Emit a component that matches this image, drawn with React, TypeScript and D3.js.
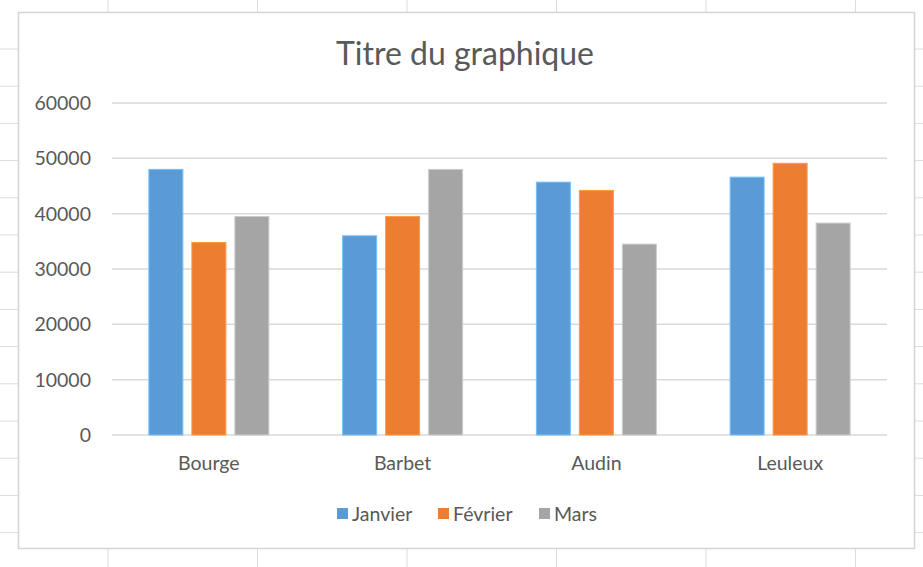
import React, { useMemo } from 'react';
import * as d3 from 'd3';

const WIDTH = 923;
const HEIGHT = 567;
const FRAME = { left: 18, top: 12, right: 914, bottom: 548 };
const PLOT = { left: 112, right: 887, top: 103, bottom: 435 };
const FONT = 'Lato, "Open Sans", sans-serif';
const TEXT_COLOR = '#595959';

const categories = ['Bourge', 'Barbet', 'Audin', 'Leuleux'];
const seriesNames = ['Janvier', 'Février', 'Mars'];
const janvier = [48000, 36000, 45700, 46600];
const fevrier = [34800, 39500, 44200, 49100];
const mars = [39500, 48000, 34500, 38300];
const yTicks = [0, 10000, 20000, 30000, 40000, 50000, 60000];
const colors = ['#5B9BD5', '#ED7D31', '#A5A5A5'];

// spreadsheet cell grid peeking out round the chart
const sheetCols = [108, 257.5, 407, 556.5, 706, 855.5];
const sheetRows = d3.range(14).map((k) => 49 + k * 37.2);

const App = () => {
  const values = [janvier, fevrier, mars];

  const xScale = useMemo(
    () => d3.scaleBand<string>().domain(categories).range([PLOT.left, PLOT.right]).padding(0),
    []
  );
  const groupWidth = 120;
  const xInner = useMemo(
    () =>
      d3
        .scaleBand<string>()
        .domain(seriesNames)
        .range([0, groupWidth])
        .paddingInner(9 / 43)
        .paddingOuter(0),
    []
  );
  const yScale = useMemo(
    () => d3.scaleLinear().domain([0, 60000]).range([PLOT.bottom, PLOT.top]),
    []
  );
  const legendX = d3.scalePoint<string>().domain(seriesNames).range([337, 539]);

  const groupOffset = (xScale.bandwidth() - groupWidth) / 2;

  return (
    <svg
      width={WIDTH}
      height={HEIGHT}
      style={{ position: 'absolute', left: 0, top: 0, background: '#fff' }}
    >
      {/* sheet grid */}
      <g stroke="#DCDCDC" strokeWidth={1}>
        {sheetCols.map((x, i) => (
          <g key={'c' + i}>
            <line x1={x} x2={x} y1={0} y2={FRAME.top} />
            <line x1={x} x2={x} y1={FRAME.bottom} y2={HEIGHT} />
          </g>
        ))}
        {sheetRows.map((y, i) => (
          <g key={'r' + i}>
            <line x1={0} x2={FRAME.left} y1={y} y2={y} />
            <line x1={FRAME.right} x2={WIDTH} y1={y} y2={y} />
          </g>
        ))}
      </g>

      {/* chart frame */}
      <rect
        x={FRAME.left + 0.5}
        y={FRAME.top + 0.5}
        width={FRAME.right - FRAME.left}
        height={FRAME.bottom - FRAME.top}
        fill="#fff"
        stroke="#D4D4D4"
        strokeWidth={1.5}
      />

      <text
        x={465}
        y={65}
        textAnchor="middle"
        fontFamily={FONT}
        fontSize={32}
        fill={TEXT_COLOR}
      >
        Titre du graphique
      </text>

      {/* gridlines and y labels */}
      {yTicks.map((t) => (
        <g key={t}>
          <line
            x1={PLOT.left}
            x2={PLOT.right}
            y1={yScale(t)}
            y2={yScale(t)}
            stroke="#D9D9D9"
            strokeWidth={1.5}
          />
          <text
            x={91}
            y={yScale(t)}
            dy="0.36em"
            textAnchor="end"
            fontFamily={FONT}
            fontSize={19.5}
            fill={TEXT_COLOR}
          >
            {t}
          </text>
        </g>
      ))}

      {/* bars */}
      {categories.map((cat, ci) => (
        <g key={cat} transform={`translate(${(xScale(cat) ?? 0) + groupOffset},0)`}>
          {seriesNames.map((s, si) => {
            const v = values[si][ci];
            return (
              <rect
                key={s}
                x={xInner(s)}
                y={yScale(v)}
                width={xInner.bandwidth()}
                height={yScale(0) - yScale(v)}
                fill={colors[si]}
                stroke={d3.color(colors[si])?.brighter(0.6).formatHex()}
                strokeWidth={1}
              />
            );
          })}
        </g>
      ))}

      {/* category labels */}
      {categories.map((cat) => (
        <text
          key={cat}
          x={(xScale(cat) ?? 0) + xScale.bandwidth() / 2}
          y={470}
          textAnchor="middle"
          fontFamily={FONT}
          fontSize={19.5}
          fill={TEXT_COLOR}
        >
          {cat}
        </text>
      ))}

      {/* legend */}
      {seriesNames.map((s, i) => (
        <g key={s} transform={`translate(${legendX(s)},508)`}>
          <rect x={0} y={0} width={11} height={11} fill={colors[i]} />
          <text
            x={15}
            y={5.5}
            dy="0.36em"
            fontFamily={FONT}
            fontSize={19.5}
            fill={TEXT_COLOR}
          >
            {s}
          </text>
        </g>
      ))}
    </svg>
  );
};

export default App;
